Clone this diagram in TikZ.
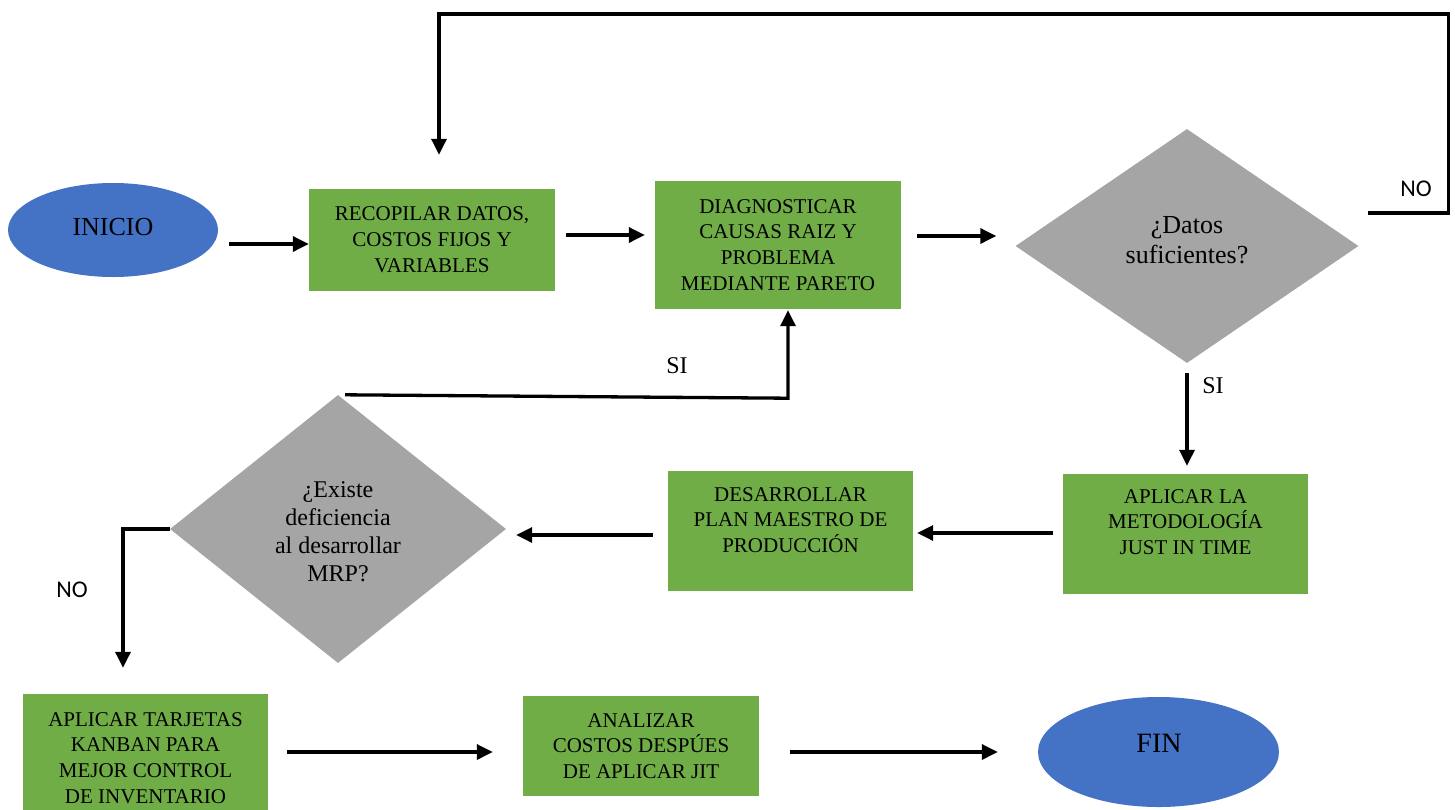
\documentclass[tikz,border=0pt]{standalone}
\usepackage{fontspec}
\setmainfont{Liberation Serif}
\newfontfamily\nofont{Carlito}
\usetikzlibrary{arrows.meta,shapes.geometric,calc}
\definecolor{boxgreen}{HTML}{70AD47}
\definecolor{termblue}{HTML}{4472C4}
\definecolor{decgray}{HTML}{A5A5A5}
\begin{document}
\begin{tikzpicture}[x=1pt,y=-1pt,
  term/.style={ellipse, fill=termblue, inner sep=0pt},
  stepbox/.style={rectangle, fill=boxgreen, inner sep=0pt},
  decision/.style={diamond, fill=decgray, inner sep=0pt},
  boxtxt/.style={align=center, font=\fontsize{21}{25.8}\selectfont, inner sep=0pt},
  dectxtA/.style={align=center, font=\fontsize{26}{30.5}\selectfont, inner sep=0pt},
  dectxtB/.style={align=center, font=\fontsize{24}{28}\selectfont, inner sep=0pt},
  termtxt/.style={font=\fontsize{26}{30}\selectfont, inner sep=0pt},
  arr/.style={line width=3.3pt, -{Triangle[length=16pt,width=15pt]}},
  silbl/.style={font=\fontsize{24}{28}\selectfont, inner sep=0pt},
  nolbl/.style={font=\nofont\fontsize{24}{28}\selectfont, inner sep=0pt}
]
\useasboundingbox (0,0) rectangle (1455,809);

% shapes
\node[term, minimum width=210pt, minimum height=94pt] (start) at (113,230) {};
\node[termtxt] (starttxt) at (113,227) {INICIO};

\node[stepbox, minimum width=246pt, minimum height=102pt] (b1) at (432,240) {};
\node[boxtxt] (t1) at (432,240) {RECOPILAR DATOS,\\COSTOS FIJOS Y\\VARIABLES};

\node[stepbox, minimum width=246pt, minimum height=128pt] (b2) at (778,245) {};
\node[boxtxt] (t2) at (778,245) {DIAGNOSTICAR\\CAUSAS RAIZ Y\\PROBLEMA\\MEDIANTE PARETO};

\node[decision, minimum width=343pt, minimum height=234pt] (d1) at (1187,246) {};
\node[dectxtA] (dt1) at (1187,240) {¿Datos\\suficientes?};

\node[stepbox, minimum width=245pt, minimum height=120pt] (b3) at (1185.5,534) {};
\node[boxtxt] (t3) at (1185.5,522) {APLICAR LA\\METODOLOGÍA\\JUST IN TIME};

\node[stepbox, minimum width=245pt, minimum height=120pt] (b4) at (790.5,531) {};
\node[boxtxt] (t4) at (790.5,520) {DESARROLLAR\\PLAN MAESTRO DE\\PRODUCCIÓN};

\node[decision, minimum width=336pt, minimum height=268pt] (d2) at (338,529) {};
\node[dectxtB] (dt2) at (338,532) {¿Existe\\deficiencia\\al desarrollar\\MRP?};

\node[stepbox, minimum width=245pt, minimum height=121pt] (b5) at (145.5,754.5) {};
\node[boxtxt] (t5) at (145.5,758) {APLICAR TARJETAS\\KANBAN PARA\\MEJOR CONTROL\\DE INVENTARIO};

\node[stepbox, minimum width=236pt, minimum height=100pt] (b6) at (641,746) {};
\node[boxtxt] (t6) at (641,746) {ANALIZAR\\COSTOS DESPÚES\\DE APLICAR JIT};

\node[term, minimum width=241pt, minimum height=110pt] (fin) at (1158.5,752) {};
\node[termtxt, font=\fontsize{28}{32}\selectfont] (fintxt) at (1159,743) {FIN};

% connectors
\draw[arr] ($(start.east)+(11,14)$) -- ($(b1.west)+(0,4)$);
\draw[arr] ($(b1.east)+(11,-5)$) -- ($(b2.west)+(-10,-10)$);
\draw[arr] ($(b2.east)+(16,-9)$) -- ($(d1.west)+(-19,-10)$);
\draw[arr] ($(d1.east)+(9,-33)$) -- ++(81,0) -- ++(0,-199) -| ($(b1.north)+(7,-34)$);
\node[nolbl] (no1) at (1416,189) {NO};
\draw[arr] ($(d1.south)+(0,10)$) -- ($(b3.north)+(1.5,-8)$);
\node[silbl] (si1) at (1213,386) {SI};
\draw[arr] ($(b3.west)+(-10,-1)$) -- ($(b4.east)+(4,2)$);
\draw[arr] ($(b4.west)+(-15,4)$) -- ($(d2.east)+(10,6)$);
\draw[arr] ($(d2.north)+(7,0)$) -- ($(b2.south)+(10,89)$) -- ($(b2.south)+(10,1)$);
\node[silbl] (si2) at (677,366) {SI};
\draw[arr] (d2.west) -| ($(b5.north)+(-22.5,-26)$);
\node[nolbl] (no2) at (72,590) {NO};
\draw[arr] ($(b5.east)+(19,-2.5)$) -- ($(b6.west)+(-30,6)$);
\draw[arr] ($(b6.east)+(31,6)$) -- ($(fin.west)+(-40,0)$);
\end{tikzpicture}
\end{document}
